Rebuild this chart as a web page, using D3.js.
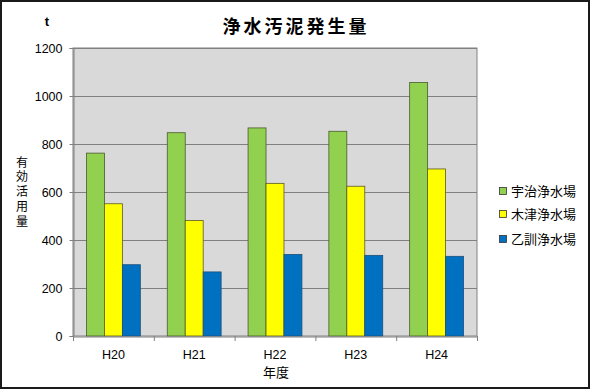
<!DOCTYPE html>
<html>
<head>
<meta charset="utf-8">
<script src="https://cdn.jsdelivr.net/npm/d3@7"></script>
<style>
  body { margin: 0; background: #fff; }
  svg { display: block; font-family: "Liberation Sans", "Noto Sans CJK JP", sans-serif; }
</style>
</head>
<body>
<div id="chart"></div>
<script>
const years = ["H20", "H21", "H22", "H23", "H24"];
const plants = ["宇治浄水場", "木津浄水場", "乙訓浄水場"];
const uji = [762, 847, 867, 853, 1056];
const kizu = [551, 481, 636, 624, 696];
const otokuni = [297, 267, 340, 336, 332];
const yTicks = [0, 200, 400, 600, 800, 1000, 1200];

const series = [uji, kizu, otokuni];
const fills = ["#92d050", "#ffff00", "#0070c0"];
const strokes = ["#4a5a2a", "#5a5a20", "#1d4f7a"];

const W = 591, H = 390;
const plotLeft = 73, plotRight = 477, plotTop = 48, plotBottom = 336;

var svg = d3.select("#chart")
    .append("svg")
    .attr("width", W)
    .attr("height", H);

// outer frame
svg.append("rect")
    .attr("x", 1).attr("y", 1)
    .attr("width", W - 3).attr("height", H - 3)
    .style("fill", "#fff")
    .style("stroke", "#1a1a1a")
    .style("stroke-width", 2);

var x = d3.scaleBand()
    .domain(years)
    .range([plotLeft, plotRight]);

var xInner = d3.scaleBand()
    .domain(d3.range(series.length))
    .range([0, x.bandwidth()])
    .paddingOuter(0.75)
    .paddingInner(0);

var y = d3.scaleLinear()
    .domain([0, 1200])
    .range([plotBottom, plotTop]);

// plot area
svg.append("rect")
    .attr("x", plotLeft).attr("y", plotTop)
    .attr("width", plotRight - plotLeft).attr("height", plotBottom - plotTop)
    .style("fill", "#d9d9d9")
    .style("stroke", "#808080");

svg.append("g")
    .selectAll("line")
    .data(yTicks.filter(d => d > 0))
    .enter()
    .append("line")
    .attr("x1", plotLeft).attr("x2", plotRight)
    .attr("y1", d => y(d) + 0.5).attr("y2", d => y(d) + 0.5)
    .style("stroke", "#808080");

// bars
series.forEach((vals, i) => {
    svg.append("g")
        .selectAll("rect")
        .data(vals)
        .enter()
        .append("rect")
        .attr("x", (d, j) => x(years[j]) + xInner(i))
        .attr("y", d => y(d))
        .attr("width", xInner.bandwidth())
        .attr("height", d => plotBottom - y(d))
        .style("fill", fills[i])
        .style("stroke", strokes[i])
        .style("stroke-width", 0.8);
});

// y axis
var yaxis = svg.append("g")
    .attr("transform", `translate(${plotLeft + 0.5},0)`)
    .call(d3.axisLeft(y).tickValues(yTicks).tickFormat(d3.format("d")).tickSize(4).tickPadding(7))
    .style("font-size", "12.5px")
    .style("color", "#000");
yaxis.select(".domain").style("stroke", "#808080");
yaxis.selectAll(".tick line").style("stroke", "#808080");
yaxis.selectAll(".tick text").attr("dy", "0.36em");

// x axis
var xaxis = svg.append("g")
    .attr("transform", `translate(0,${plotBottom + 0.5})`)
    .call(d3.axisBottom(x).tickSize(0).tickPadding(14))
    .style("font-size", "12.5px")
    .style("color", "#000");
xaxis.select(".domain").style("stroke", "#808080");

svg.append("g")
    .selectAll("line")
    .data(years.concat(["end"]))
    .enter()
    .append("line")
    .attr("x1", (d, i) => i < years.length ? x(d) + 0.5 : plotRight + 0.5)
    .attr("x2", (d, i) => i < years.length ? x(d) + 0.5 : plotRight + 0.5)
    .attr("y1", plotBottom).attr("y2", plotBottom + 5)
    .style("stroke", "#808080");

// title
svg.append("text")
    .attr("x", 296).attr("y", 33)
    .style("text-anchor", "middle")
    .style("font-size", "18px")
    .style("font-weight", "bold")
    .style("letter-spacing", "3px")
    .style("font-family", "'Noto Sans CJK JP', sans-serif")
    .text("浄水汚泥発生量");

// unit
svg.append("text")
    .attr("x", 47).attr("y", 26)
    .style("text-anchor", "middle")
    .style("font-size", "13px")
    .style("font-weight", "bold")
    .text("t");

// y axis title (vertical, one text)
svg.append("text")
    .attr("x", 22)
    .attr("y", 156)
    .style("writing-mode", "vertical-rl")
    .style("text-orientation", "upright")
    .style("letter-spacing", "2.8px")
    .style("font-size", "12px")
    .style("font-family", "'Noto Sans CJK JP', sans-serif")
    .text("有効活用量");

// x axis title
svg.append("text")
    .attr("x", 276).attr("y", 377)
    .style("text-anchor", "middle")
    .style("font-size", "13px")
    .style("font-family", "'Noto Sans CJK JP', sans-serif")
    .text("年度");

// legend
var legendY = [191, 214, 239];
var legend = svg.append("g")
    .selectAll("g")
    .data(plants)
    .enter()
    .append("g")
    .attr("transform", (d, i) => `translate(499,${legendY[i]})`);

legend.append("rect")
    .attr("x", 0.5).attr("y", -3.5)
    .attr("width", 7).attr("height", 7)
    .style("fill", (d, i) => fills[i])
    .style("stroke", "#333")
    .style("stroke-width", 0.8);

legend.append("text")
    .attr("x", 12).attr("y", 0)
    .attr("dy", "0.38em")
    .style("font-size", "13px")
    .style("font-family", "'Noto Sans CJK JP', sans-serif")
    .text(d => d);
</script>
</body>
</html>
